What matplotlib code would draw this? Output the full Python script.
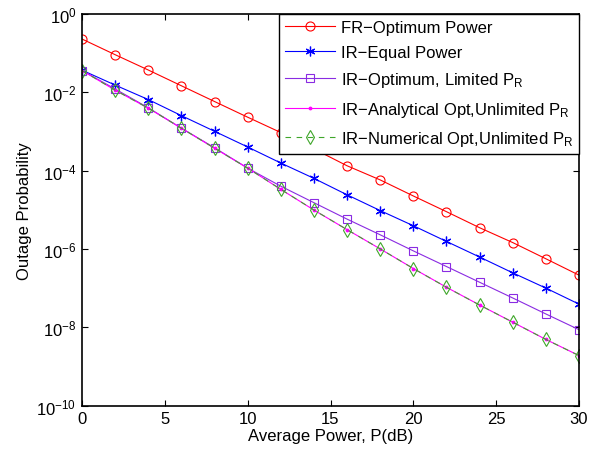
import matplotlib
matplotlib.use("Agg")
import matplotlib.pyplot as plt
import numpy as np

plt.rcParams['font.family'] = ['Liberation Sans', 'DejaVu Sans']
plt.rcParams['mathtext.fontset'] = 'custom'
plt.rcParams['mathtext.rm'] = 'Liberation Sans'
plt.rcParams['mathtext.it'] = 'Liberation Sans'
plt.rcParams['mathtext.default'] = 'regular'

power_db = [0, 2, 4, 6, 8, 10, 12, 14, 16, 18, 20, 22, 24, 26, 28, 30]
fr_optimum = [2.26e-1, 9.0e-2, 3.66e-2, 1.45e-2, 5.75e-3, 2.29e-3, 9.3e-4, 3.55e-4,
              1.32e-4, 5.75e-5, 2.24e-5, 8.9e-6, 3.47e-6, 1.45e-6, 5.6e-7, 2.14e-7]
ir_equal = [3.63e-2, 1.51e-2, 6.46e-3, 2.51e-3, 1.0e-3, 3.98e-4, 1.55e-4, 6.3e-5,
            2.4e-5, 9.5e-6, 3.9e-6, 1.55e-6, 6.2e-7, 2.45e-7, 1.0e-7, 3.9e-8]
ir_opt_limited = [3.55e-2, 1.2e-2, 3.98e-3, 1.2e-3, 3.8e-4, 1.15e-4, 3.98e-5, 1.51e-5,
                  5.75e-6, 2.29e-6, 8.9e-7, 3.55e-7, 1.41e-7, 5.6e-8, 2.19e-8, 8.7e-9]
ir_analytical = [3.55e-2, 1.12e-2, 3.9e-3, 1.2e-3, 3.7e-4, 1.15e-4, 3.3e-5, 9.8e-6,
                 3.1e-6, 1.0e-6, 3.16e-7, 1.05e-7, 3.7e-8, 1.35e-8, 4.9e-9, 1.9e-9]
ir_numerical = [3.55e-2, 1.12e-2, 3.9e-3, 1.2e-3, 3.7e-4, 1.15e-4, 3.3e-5, 9.8e-6,
                3.1e-6, 1.0e-6, 3.16e-7, 1.05e-7, 3.7e-8, 1.35e-8, 4.9e-9, 1.9e-9]

labels = ['FR\u2212Optimum Power',
          'IR\u2212Equal Power',
          'IR\u2212Optimum, Limited P$_R$',
          'IR\u2212Analytical Opt,Unlimited P$_R$',
          'IR\u2212Numerical Opt,Unlimited P$_R$']
ytick_vals = [1e0, 1e-2, 1e-4, 1e-6, 1e-8, 1e-10]
xtick_vals = [0, 5, 10, 15, 20, 25, 30]

fig = plt.figure(figsize=(5.89, 4.52), dpi=100)
ax = fig.add_axes([82/589, 1 - 406.7/452, (579 - 82)/589, (406.7 - 14.7)/452])

lw = 0.8
ax.semilogy(power_db, fr_optimum, '-', color='#ff0000', marker='o', mfc='none',
            ms=6.5, mew=0.8, lw=lw, label=labels[0])
ax.semilogy(power_db, ir_equal, '-', color='#0000ff', marker=(6, 2, 0), ms=7, mew=0.9,
            lw=lw, label=labels[1])
ax.semilogy(power_db, ir_opt_limited, '-', color='#8a2be2', marker='s', mfc='none',
            ms=5.5, mew=0.8, lw=lw, label=labels[2])
ax.semilogy(power_db, ir_analytical, '-', color='#ff00ff', marker='.', ms=3.5,
            lw=lw, label=labels[3])
ax.semilogy(power_db, ir_numerical, '--', color='#3fa62a', marker='d', mfc='none',
            ms=7.5, mew=0.8, lw=lw, dashes=(5, 5), label=labels[4])

ax.set_xlim(0, 30)
ax.set_ylim(1e-10, 1e0)
ax.set_xticks(xtick_vals)
ax.set_yticks(ytick_vals)
ax.yaxis.set_minor_locator(matplotlib.ticker.NullLocator())
ax.tick_params(which='both', direction='in', top=True, right=True, length=4,
               width=0.8, labelsize=12, pad=4)
for s in ax.spines.values():
    s.set_linewidth(1.2)

ax.set_xlabel('Average Power, P(dB)', fontsize=12, labelpad=1.5)
ax.set_ylabel('Outage Probability', fontsize=12, labelpad=3)

leg = ax.legend(loc='upper right', fontsize=12, borderaxespad=0, frameon=True,
                fancybox=False, edgecolor='black', handlelength=3.0,
                labelspacing=0.62, borderpad=0.35, handletextpad=0.35)
leg.get_frame().set_linewidth(1.0)
leg.get_frame().set_alpha(1)

fig.savefig('out.png', dpi=100)
